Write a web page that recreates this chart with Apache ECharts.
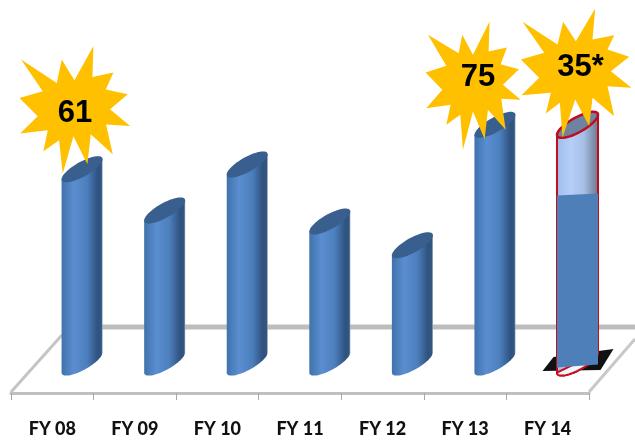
<!DOCTYPE html>
<html><head><meta charset="utf-8">
<style>html,body{margin:0;padding:0;background:#fff}#c{width:635px;height:440px}</style>
<script src="https://cdn.jsdelivr.net/npm/echarts@6/dist/echarts.min.js"></script>
</head><body><div id="c"></div>
<script>
const categories = ['FY 08','FY 09','FY 10','FY 11','FY 12','FY 13','FY 14'];
const values = [61,48,62.5,44.5,37,75,53];
const targets = [null,null,null,null,null,null,75];
const starLabels = ['61','','','','','75','35*'];

// decoration geometry (pixels, relative to the star centre)
const starA = [[280,47],[277,140],[340,127],[317,178],[383,192],[330,237],[390,287],[318,283],[338,372],[272,312],[262,402],[220,318],[188,430],[177,330],[130,363],[143,300],[60,310],[113,258],[58,203],[128,183],[63,88],[170,158],[185,88],[223,150]].map(p=>[(p[0]-225)/3,(p[1]-240)/3]);
const starB = [[210,65],[207,155],[262,143],[243,193],[298,208],[250,255],[303,300],[245,297],[258,390],[205,330],[195,418],[160,335],[130,450],[122,345],[80,375],[93,315],[20,325],[68,270],[18,218],[80,198],[25,105],[117,160],[128,105],[160,165]].map(p=>[(p[0]-175)/3,(p[1]-240)/3]);
const starC = [[528,27],[520,120],[585,107],[565,150],[630,172],[575,215],[637,265],[565,260],[585,350],[520,295],[510,380],[468,300],[430,415],[422,310],[380,342],[395,280],[307,287],[360,235],[305,180],[375,160],[310,67],[415,135],[432,67],[470,125]].map(p=>[(p[0]-484)/3,(p[1]-205)/3]);
const starShapes = {0:starA,5:starB,6:starC};
const starOffsets = {0:[-7,-59],5:[-17,-45],6:[3,-57]};
const textOffsets = {0:[0,3],5:[0,-2],6:[0,0]};

const A = 20.5, B = 8.3, K = 0.49, OFF = 29.8;
function arc(cx,cy,t0,t1,n){const r=[];for(let i=0;i<=n;i++){const t=t0+(t1-t0)*i/n,dx=A*Math.cos(t);r.push([cx+dx,cy-K*dx+B*Math.sin(t)]);}return r;}
function grad(stops){return new echarts.graphic.LinearGradient(0,0,1,0,stops.map(s=>({offset:s[0],color:s[1]})));}
const blue = grad([[0,'#4072ab'],[0.3,'#5a8ed0'],[0.62,'#4c7fbc'],[0.88,'#2f5280'],[0.97,'#33567f'],[1,'#8fa3bb']]);
const pale = grad([[0,'#9dbdea'],[0.35,'#b6cffa'],[0.65,'#a6bfe6'],[0.95,'#6f7f95'],[1,'#7d8899']]);

function cyl(cx,y0,yT,fill,capFill,stroke){
  const body=[[cx-A,yT+K*A]].concat(arc(cx,y0,Math.PI,0,36)).concat([[cx+A,yT-K*A]]);
  return [
    {type:'polygon',shape:{points:body},style:{fill:fill,stroke:stroke||null,lineWidth:stroke?2:0}},
    {type:'polygon',shape:{points:arc(cx,yT,0,Math.PI*2,48)},style:{fill:capFill,stroke:stroke||null,lineWidth:stroke?2.5:0}}
  ];
}
function renderBar(params,api){
  const i=api.value(0), v=api.value(1), t=api.value(2);
  const p=api.coord([i,v]), b=api.coord([i,0]);
  const cx=p[0]+OFF, children=[];
  let capY=p[1];
  if(t===t && t!=null){
    const q=api.coord([i,t]); capY=q[1];
    children.push({type:'polygon',shape:{points:[[cx-35,b[1]+8.5],[cx-24,b[1]-5.5],[cx+36,b[1]-13.5],[cx+23,b[1]+7.5]]},style:{fill:'#111'}});
    children.push(...cyl(cx,b[1],q[1],pale,'#6e82a2','#c00d1e'));
    children.push({type:'polygon',shape:{points:arc(cx,b[1],0,Math.PI,36)},style:{fill:'#f2f5fd',stroke:'#c8101c',lineWidth:2}});
    children.push({type:'polygon',shape:{points:[[cx-A,p[1]+1],[cx+A,p[1]-1],[cx+A,b[1]+2],[cx-A,b[1]+5]]},style:{fill:'#4f7fb9'}});
  } else {
    children.push(...cyl(cx,b[1],p[1],blue,'#385f8e',null));
  }
  const lab=starLabels[i];
  if(lab){
    const o=starOffsets[i], sx=cx+o[0], sy=capY+o[1], to=textOffsets[i];
    children.push({type:'polygon',shape:{points:starShapes[i].map(q=>[sx+q[0],sy+q[1]])},style:{fill:'#ffc000'},z2:5});
    children.push({type:'text',x:sx+to[0],y:sy+to[1],z2:6,style:{text:lab,fill:'#000',font:'bold 31px "Liberation Sans"',align:'center',verticalAlign:'middle'}});
  }
  return {type:'group',children};
}
const rows=categories.map((c,i)=>[i,values[i],targets[i]==null?NaN:targets[i]]);
const chart=echarts.init(document.getElementById('c'),null,{renderer:'canvas'});
chart.setOption({
  animation:false,
  backgroundColor:'#fff',
  grid:{left:11,right:46,top:45.6,bottom:47},
  graphic:[
    {type:'polyline',z:0,shape:{points:[[62,335],[11,392]]},style:{stroke:'#c4c4c4',lineWidth:3,fill:null}},
    {type:'polyline',z:0,shape:{points:[[72,327],[635,327]]},style:{stroke:'#bdbdbd',lineWidth:5,fill:null}},
    {type:'polyline',z:0,shape:{points:[[589,392],[635,339]]},style:{stroke:'#c8c8c8',lineWidth:3,fill:null}}
  ],
  xAxis:{type:'category',data:categories,boundaryGap:true,
    axisLine:{show:true,onZero:false,lineStyle:{color:'#c0c0c0',width:3}},
    axisTick:{show:true,alignWithLabel:false,length:7,lineStyle:{color:'#a8a8a8',width:1}},
    axisLabel:{interval:0,margin:27,color:'#111',fontFamily:'Lato',fontWeight:900,fontSize:18}},
  yAxis:{type:'value',min:-9.6,max:100,show:false,splitLine:{show:false}},
  series:[{type:'custom',clip:false,silent:true,renderItem:renderBar,encode:{x:0,y:1},data:rows,z:3}]
});
</script></body></html>
